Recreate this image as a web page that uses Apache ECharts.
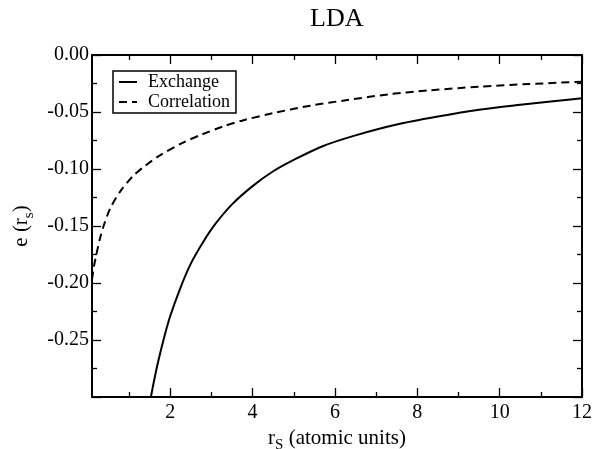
<!DOCTYPE html>
<html>
<head>
<meta charset="utf-8">
<script src="https://cdn.jsdelivr.net/npm/echarts@6/dist/echarts.min.js"></script>
<style>
  html, body { margin: 0; padding: 0; background: #fff; }
  #chart { width: 594px; height: 449px; }
</style>
</head>
<body>
<div id="chart"></div>
<script>
// values (r_s in atomic units, e in Hartree)
var exchangeRs = [1.53, 1.6, 1.7, 1.85, 2.0, 2.25, 2.5, 2.8, 3.1, 3.5, 4.0, 4.5, 5.0, 5.7, 6.5, 7.5, 8.5, 9.5, 10.5, 11.3, 12];
var exchangeE = [-0.300, -0.287, -0.270, -0.248, -0.229, -0.204, -0.183, -0.164, -0.148, -0.131, -0.115, -0.102, -0.092, -0.080, -0.0705, -0.061, -0.054, -0.048, -0.0436, -0.0405, -0.038];

var corrRs = [0.1, 0.15, 0.2, 0.3, 0.4, 0.55, 0.8, 1.1, 1.4, 1.75, 2.3, 2.75, 3.3, 3.8, 4.5, 5.4, 6.3, 7.3, 8.3, 9.5, 10.7, 12];
var corrE = [-0.197, -0.185, -0.176, -0.160, -0.148, -0.134, -0.119, -0.106, -0.097, -0.088, -0.077, -0.070, -0.0625, -0.057, -0.051, -0.0445, -0.0395, -0.0345, -0.031, -0.0278, -0.0255, -0.0234];

var seriesNames = ['Exchange', 'Correlation'];

// x axis starts at 0.1, so ticks are placed explicitly
var xMajorTicks = [2, 4, 6, 8, 10, 12];
var xMinorTicks = [1, 3, 5, 7, 9, 11];

function pairs(xs, ys) {
    return xs.map(function (x, i) { return [x, ys[i]]; });
}

var FONT = 'Liberation Serif';
var chart = echarts.init(document.getElementById('chart'));

var lineBlack = { color: '#000', width: 2 };
var tickBlack = { color: '#000', width: 1.3 };

function xAxisOf(pos, ticks, len, withLabels, withLine) {
    var ax = {
        type: 'value',
        position: pos,
        min: 0.1,
        max: 12,
        axisLine: { show: withLine, onZero: false, lineStyle: lineBlack },
        axisTick: { show: true, inside: true, length: len, customValues: ticks, lineStyle: tickBlack },
        axisLabel: { show: false },
        splitLine: { show: false }
    };
    if (withLabels) {
        ax.axisLabel = {
            show: true, customValues: ticks,
            fontFamily: FONT, fontSize: 20, color: '#000', margin: 6
        };
        ax.name = '{m|r}{s|S}{m| (atomic units)}';
        ax.nameLocation = 'middle';
        ax.nameGap = 25;
        ax.nameTextStyle = {
            rich: {
                m: { fontFamily: FONT, fontSize: 21, color: '#000' },
                s: { fontFamily: FONT, fontSize: 15, color: '#000', padding: [14, 0, 0, 0] }
            }
        };
    }
    return ax;
}

function yAxisOf(pos, withLabels) {
    var ax = {
        type: 'value',
        position: pos,
        min: -0.3,
        max: 0,
        interval: 0.05,
        axisLine: { show: true, onZero: false, lineStyle: lineBlack },
        axisTick: { show: true, inside: true, length: 9, lineStyle: tickBlack },
        minorTick: { show: true, splitNumber: 2, length: 5, lineStyle: tickBlack },
        axisLabel: { show: false },
        splitLine: { show: false }
    };
    if (withLabels) {
        ax.axisLabel = {
            show: true, fontFamily: FONT, fontSize: 20, color: '#000', margin: 3,
            showMinLabel: false,
            formatter: function (v) { return v.toFixed(2); }
        };
        ax.name = '{m|e (r}{s|s}{m|)}';
        ax.nameLocation = 'middle';
        ax.nameRotate = 90;
        ax.nameGap = 53;
        ax.nameTextStyle = {
            rich: {
                m: { fontFamily: FONT, fontSize: 21, color: '#000' },
                s: { fontFamily: FONT, fontSize: 15, color: '#000', padding: [14, 0, 0, 0] }
            }
        };
    }
    return ax;
}

var option = {
    backgroundColor: '#fff',
    animation: false,
    title: {
        text: 'LDA',
        left: 310,
        top: 6,
        padding: 0,
        textStyle: { fontFamily: FONT, fontSize: 26, fontWeight: 'normal', color: '#000' }
    },
    legend: {
        data: seriesNames,
        orient: 'vertical',
        left: 113,
        top: 71,
        padding: [2, 6, 2, 5],
        itemGap: 2,
        itemWidth: 18,
        itemHeight: 10,
        itemStyle: { opacity: 0 },
        borderColor: '#000',
        borderWidth: 1.5,
        borderRadius: 0,
        textStyle: { fontFamily: FONT, fontSize: 18, color: '#000', lineHeight: 18, padding: [0, 0, 0, 6] }
    },
    grid: { left: 92, right: 12, top: 55, bottom: 52, containLabel: false, outerBoundsMode: 'none' },
    xAxis: [
        xAxisOf('bottom', xMajorTicks, 9, true, true),
        xAxisOf('bottom', xMinorTicks, 5, false, false),
        xAxisOf('top', xMajorTicks, 9, false, true),
        xAxisOf('top', xMinorTicks, 5, false, false)
    ],
    yAxis: [
        yAxisOf('left', true),
        yAxisOf('right', false)
    ],
    series: [
        {
            name: seriesNames[0],
            type: 'line',
            data: pairs(exchangeRs, exchangeE),
            showSymbol: false,
            symbol: 'none',
            smooth: 0.3,
            lineStyle: { color: '#000', width: 2, type: 'solid' },
            itemStyle: { color: '#000' }
        },
        {
            name: seriesNames[1],
            type: 'line',
            data: pairs(corrRs, corrE),
            showSymbol: false,
            symbol: 'none',
            smooth: 0.3,
            lineStyle: { color: '#000', width: 2, type: [8, 5] },
            itemStyle: { color: '#000' }
        }
    ]
};

chart.setOption(option);
</script>
</body>
</html>
